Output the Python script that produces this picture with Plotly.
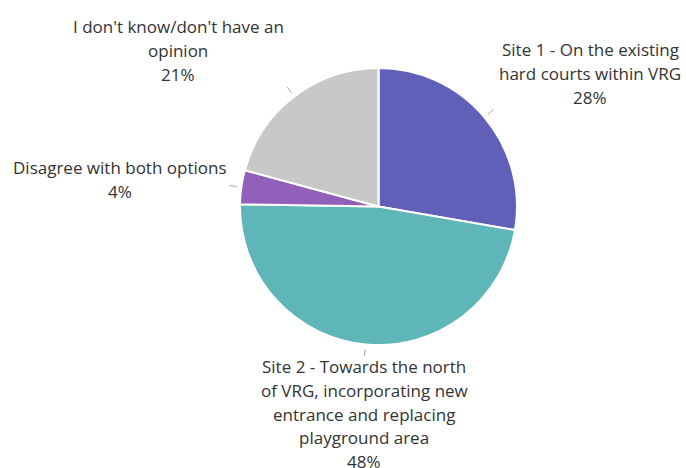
import math
import plotly.graph_objects as go

# Survey responses: preferred site
categories = [
    "Site 1 - On the existing hard courts within VRG",
    "Site 2 - Towards the north of VRG, incorporating new entrance and replacing playground area",
    "Disagree with both options",
    "I don't know/don't have an opinion",
]
label_lines = [
    ["Site 1 - On the existing", "hard courts within VRG"],
    ["Site 2 - Towards the north", "of VRG, incorporating new", "entrance and replacing", "playground area"],
    ["Disagree with both options"],
    ["I don't know/don't have an", "opinion"],
]
percent = [28, 48, 4, 21]
colors = ["#6160B8", "#5EB6B8", "#9160BA", "#C8C8C8"]

W, H = 686, 468
# pie domain (paper fraction)
dom_x = [240 / W, 517 / W]
dom_y = [1 - 345 / H, 1 - 68 / H]
cx = (dom_x[0] + dom_x[1]) / 2 * W
cy = (1 - (dom_y[0] + dom_y[1]) / 2) * H
R = (dom_x[1] - dom_x[0]) * W / 2

text_color = "#333333"
font_family = "Open Sans, Liberation Sans, sans-serif"

fig = go.Figure(go.Pie(
    labels=categories,
    values=percent,
    sort=False,
    direction="clockwise",
    rotation=0,
    marker=dict(colors=colors, line=dict(color="white", width=2)),
    textinfo="none",
    hoverinfo="label+percent",
    domain=dict(x=dom_x, y=dom_y),
    showlegend=False,
))

# label anchor centres in pixels (x, top y)
label_pos = [(590, 38), (364, 355), (120, 156), (178, 15)]
line_h = 23.7

shapes = []
annotations = []
total = sum(percent)
cum = 0
for i, v in enumerate(percent):
    mid = (cum + v / 2) / total * 2 * math.pi
    cum += v
    sx, sy = math.sin(mid), -math.cos(mid)
    r0, r1 = R * 1.035, R * 1.085
    shapes.append(dict(
        type="line", xref="paper", yref="paper",
        x0=(cx + sx * r0) / W, y0=1 - (cy + sy * r0) / H,
        x1=(cx + sx * r1) / W, y1=1 - (cy + sy * r1) / H,
        line=dict(color="#A6A6A6", width=1),
    ))
    lx, ly = label_pos[i]
    lines = label_lines[i] + [f"{v}%"]
    for j, t in enumerate(lines):
        annotations.append(dict(
            x=lx / W, y=1 - (ly + j * line_h + line_h / 2) / H,
            xref="paper", yref="paper", text=t, showarrow=False,
            xanchor="center", yanchor="middle",
            font=dict(size=17, color=text_color, family=font_family),
        ))

fig.update_layout(
    width=W, height=H,
    margin=dict(l=0, r=0, t=0, b=0),
    paper_bgcolor="white",
    plot_bgcolor="white",
    shapes=shapes,
    annotations=annotations,
)

fig.write_html("out.html")
